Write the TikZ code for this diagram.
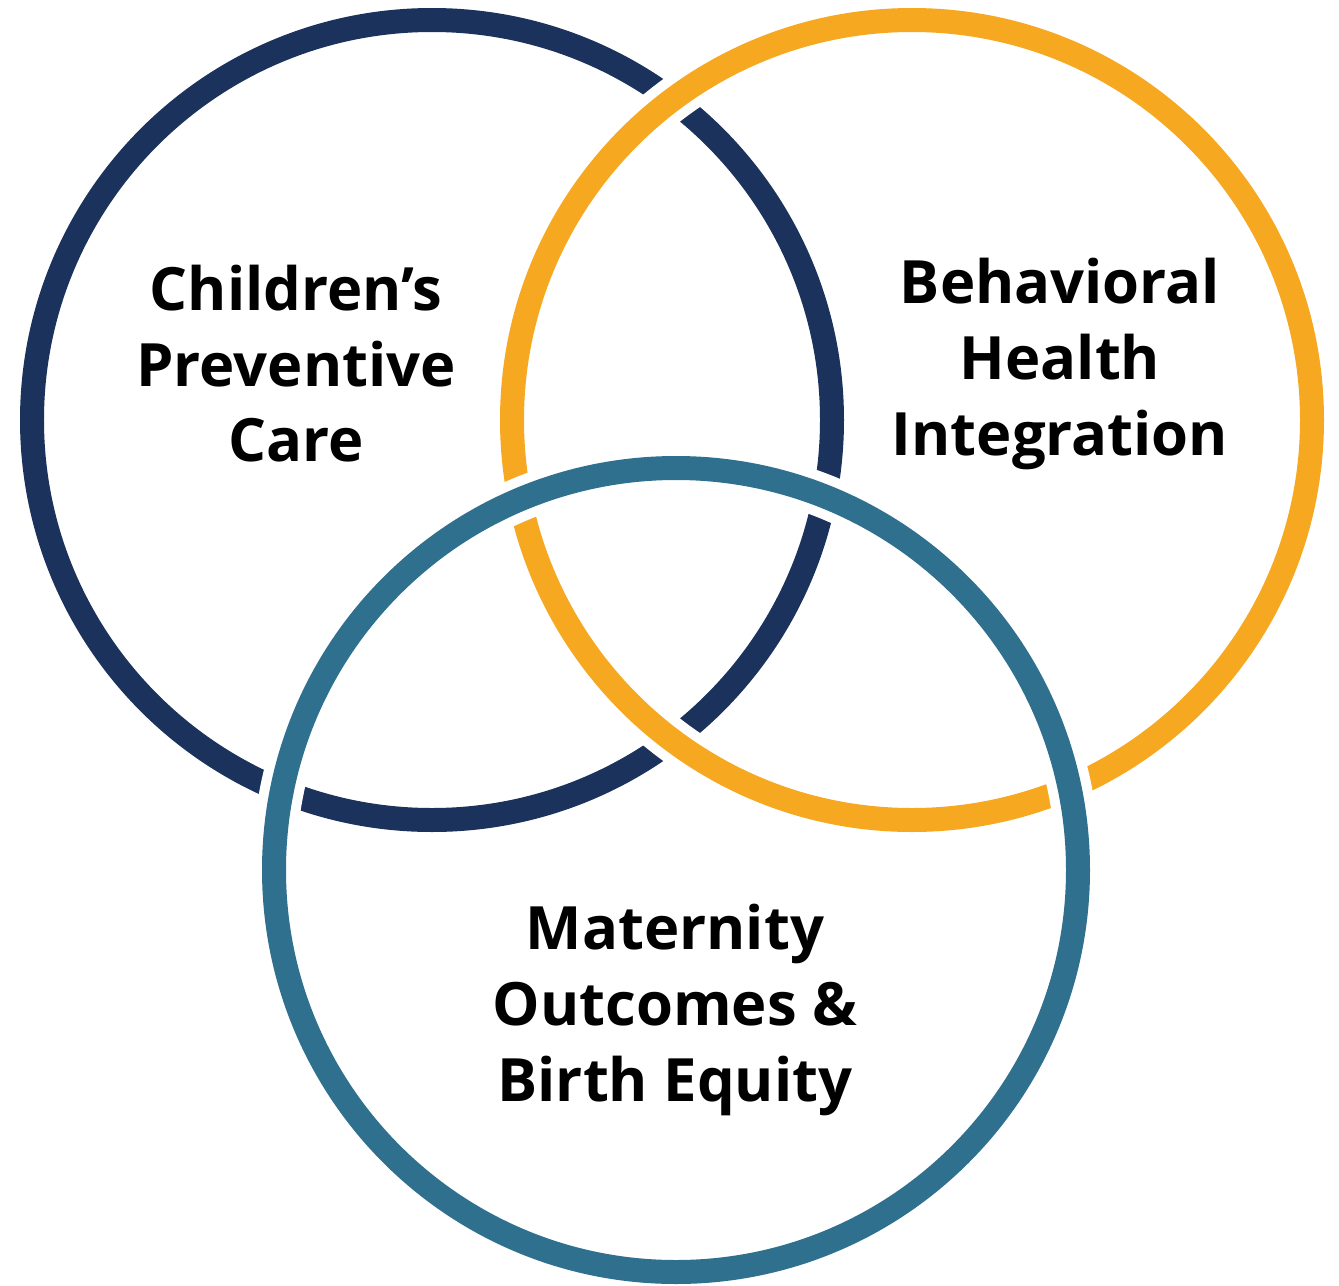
\documentclass[tikz,border=0pt]{standalone}
\usepackage{fontspec}
\setmainfont{Open Sans}
\definecolor{ringnavy}{RGB}{27,50,92}
\definecolor{ringorange}{RGB}{246,168,33}
\definecolor{ringteal}{RGB}{46,112,142}
\begin{document}
\begin{tikzpicture}[x=0.02cm,y=-0.02cm,
  ring/.style={line width=0.48cm},
  gap/.style={white,line width=0.88cm},
  label/.style={font=\bfseries\fontsize{34}{43}\selectfont,align=center,text=black}]
\useasboundingbox[fill=white] (0,0) rectangle (1339,1285);
% centres of the three rings
\coordinate (cnavy) at (432,420);
\coordinate (corange) at (912,420);
\coordinate (cteal) at (676,870);
% bottom layer: navy ring
\draw[ring,ringnavy] (cnavy) circle[radius=400];
% middle layer: orange ring with a white halo so it cuts the navy ring
\draw[gap] (corange) circle[radius=400];
\draw[ring,ringorange] (corange) circle[radius=400];
% top layer: teal ring cutting both others
\draw[gap] (cteal) circle[radius=402];
\draw[ring,ringteal] (cteal) circle[radius=402];
% labels
\node[label] (children) at (296,364) {Children’s\\Preventive\\Care};
\node[label] (behavioral) at (1060,364) {Behavioral\\Health\\Integration};
\node[label] (maternity) at (675,1010) {Maternity\\Outcomes \&\\Birth Equity};
\end{tikzpicture}
\end{document}
